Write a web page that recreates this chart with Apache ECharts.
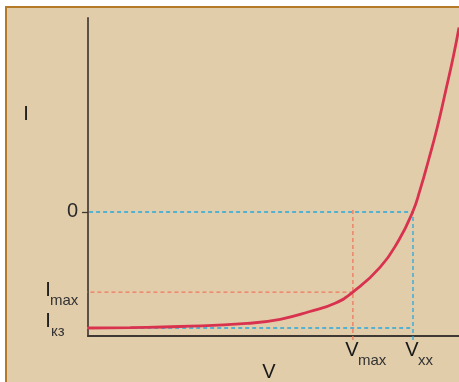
<!DOCTYPE html>
<html><head><meta charset="utf-8">
<script src="https://cdn.jsdelivr.net/npm/echarts@6/dist/echarts.min.js"></script>
<style>html,body{margin:0;padding:0;background:#fff}#c{width:459px;height:382px}</style>
</head><body><div id="c"></div>
<script>
// Curve (relative units): V along x, I along y
const CURVE_V = [0, 0.113, 0.248, 0.429, 0.518, 0.598, 0.666, 0.714, 0.787, 0.838, 0.875, 0.895, 0.918, 0.942, 0.964, 0.985, 1.0];
const CURVE_I = [-1.0, -0.996, -0.987, -0.961, -0.925, -0.858, -0.786, -0.690, -0.478, -0.241, 0, 0.190, 0.448, 0.737, 1.043, 1.345, 1.591];
// Characteristic points
const V_MAX = 0.714, V_XX = 0.876;
const I_ZERO = 0, I_MAX = -0.69, I_KZ = -1.0;
// Axis ranges
const V_RANGE = [0, 1.0];
const I_RANGE = [-1.069, 1.672];
// Guide line extents (outside the axes)
const V_GUIDE_LEFT = -0.05;
const I_GUIDE_BOTTOM = -1.12;
// Tick labels
const Y_TICK_VALUES = [0];
const Y_TICK_LABELS = ['0'];
const Y_NAME = 'I', X_NAME = 'V';
const SUB_LABELS = { iMax: ['I', 'max'], iKz: ['I', 'кз'], vMax: ['V', 'max'], vXx: ['V', 'xx'] };

const FONT = '"Liberation Sans", Arial, Helvetica, sans-serif';
const chart = echarts.init(document.getElementById('c'), null, { renderer: 'canvas' });

const dash = { type: [4, 3], width: 1.3 };
function guide(data, color) {
  return { type: 'line', data: data, symbol: 'none', clip: false, silent: true, z: 3,
    lineStyle: Object.assign({ color: color }, dash) };
}
const BLUE = '#27a8e0', SALMON = '#f0785e';

chart.setOption({
  animation: false,
  backgroundColor: '#ffffff',
  grid: { left: 88, right: 0, top: 18, bottom: 46 },
  xAxis: { type: 'value', min: V_RANGE[0], max: V_RANGE[1],
    axisLine: { show: true, onZero: false, lineStyle: { color: '#3e3833', width: 2 } },
    axisTick: { show: false }, axisLabel: { show: false }, splitLine: { show: false } },
  yAxis: { type: 'value', min: I_RANGE[0], max: I_RANGE[1],
    axisLine: { show: true, onZero: false, lineStyle: { color: '#5b5146', width: 2 } },
    axisTick: { show: true, customValues: Y_TICK_VALUES, length: 6, lineStyle: { color: '#3e3833', width: 1.3 } },
    axisLabel: { show: true, customValues: Y_TICK_VALUES, margin: 10,
      formatter: v => Y_TICK_LABELS[Y_TICK_VALUES.indexOf(v)] || '',
      fontFamily: FONT, fontSize: 20, color: '#2a2a2a' },
    splitLine: { show: false } },
  series: [
    guide([[0.003, I_ZERO], [V_XX, I_ZERO], [V_XX, I_GUIDE_BOTTOM - 0.01]], BLUE),
    guide([[V_GUIDE_LEFT + 0.002, I_KZ], [V_XX, I_KZ]], BLUE),
    guide([[V_GUIDE_LEFT, I_MAX], [V_MAX, I_MAX]], SALMON),
    guide([[V_MAX, I_ZERO + 0.017], [V_MAX, I_GUIDE_BOTTOM]], SALMON),
    { type: 'line', data: CURVE_V.map((v, k) => [v, CURVE_I[k]]), symbol: 'none',
      smooth: 0.5, clip: false, z: 5, silent: true,
      lineStyle: { color: '#d8324f', width: 2.8 } }
  ],
  graphic: [
    { type: 'rect', id: 'panel', z: -10, silent: true,
      shape: { x: 6, y: 7, width: 470, height: 390 },
      style: { fill: '#e2cdab', stroke: '#b57a28', lineWidth: 2 } }
  ]
});

function P(v, i) { return chart.convertToPixel({ gridIndex: 0 }, [v, i]); }
const ax = P(0, 0)[0];
const ay = P(0, I_RANGE[0])[1];
const yMax = P(0, I_MAX)[1], yKz = P(0, I_KZ)[1];
const xMax = P(V_MAX, 0)[0], xXx = P(V_XX, 0)[0];
const MAIN = 'normal 20px ' + FONT, SUB = 'normal 15px ' + FONT;
function txt(id, s, x, y, font, align, fill) {
  return { type: 'text', id: id, z: 20, silent: true,
    style: { text: s, x: x, y: y, font: font, align: align, verticalAlign: 'middle', fill: fill } };
}
chart.setOption({ graphic: [
  txt('yname', Y_NAME, 26, 114, MAIN, 'center', '#1a1a1a'),
  txt('xname', X_NAME, 269, 372, MAIN, 'center', '#1a1a1a'),
  txt('imI', SUB_LABELS.iMax[0], ax - 40, yMax - 2, MAIN, 'center', '#1a1a1a'),
  txt('imS', SUB_LABELS.iMax[1], ax - 38, yMax + 8.7, SUB, 'left', '#333'),
  txt('ikI', SUB_LABELS.iKz[0], ax - 40, yKz - 6.5, MAIN, 'center', '#1a1a1a'),
  txt('ikS', SUB_LABELS.iKz[1], ax - 37, yKz + 3.7, SUB, 'left', '#333'),
  txt('vmV', SUB_LABELS.vMax[0], xMax - 1, ay + 14.5, MAIN, 'center', '#1a1a1a'),
  txt('vmS', SUB_LABELS.vMax[1], xMax + 5, ay + 24.7, SUB, 'left', '#333'),
  txt('vxV', SUB_LABELS.vXx[0], xXx - 1, ay + 14.5, MAIN, 'center', '#1a1a1a'),
  txt('vxS', SUB_LABELS.vXx[1], xXx + 5, ay + 24.7, SUB, 'left', '#333')
] });
</script></body></html>
